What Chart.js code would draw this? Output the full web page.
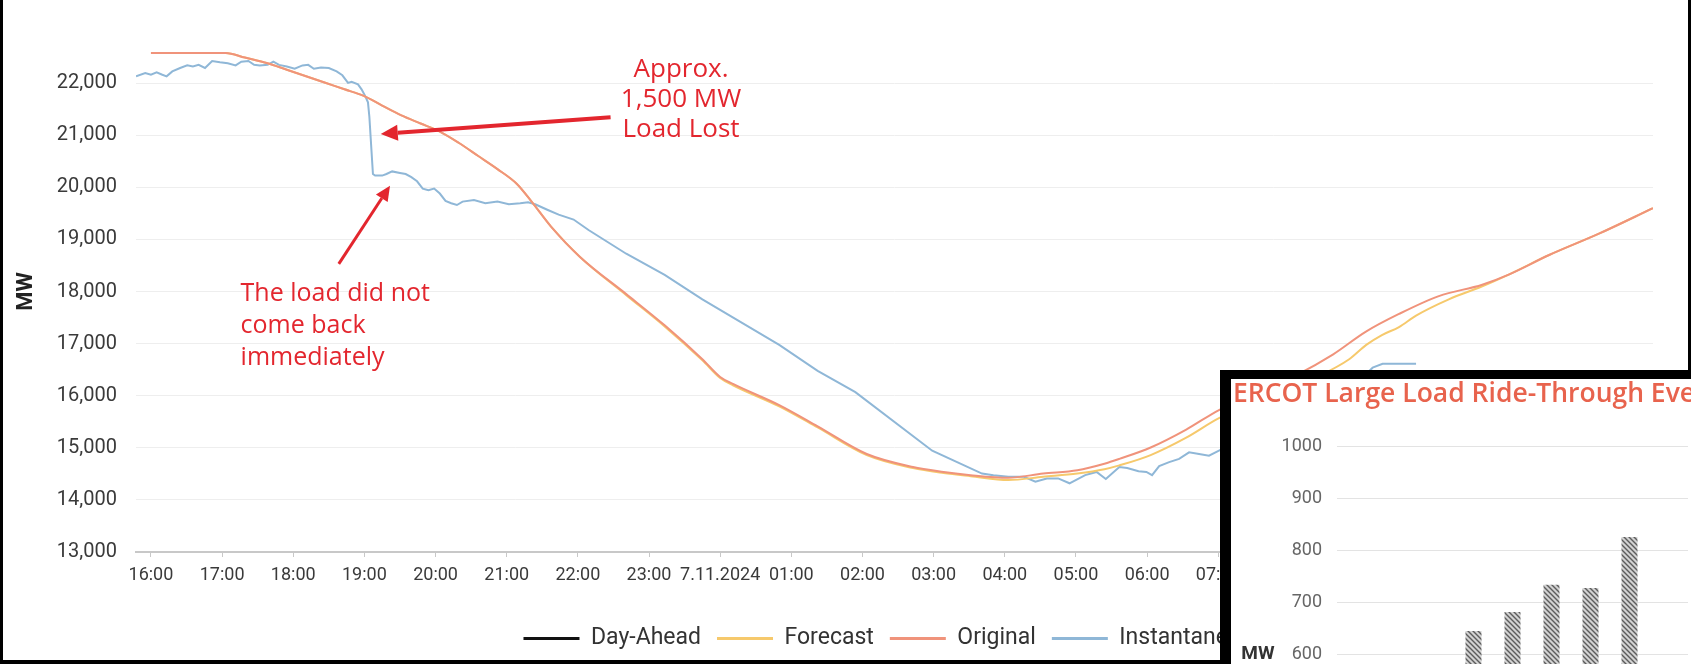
<!DOCTYPE html>
<html lang="en">
<head>
  <meta charset="UTF-8">
  <title>Load lost 6.11.2024</title>
  <script src="https://cdn.jsdelivr.net/npm/chart.js"></script>
  <style>
    html, body { margin: 0; padding: 0; background: #000; }
    body { width: 1691px; height: 664px; position: relative; overflow: hidden; }
    #main { position: absolute; left: 3px; top: 0; width: 1685px; height: 660px; background: #fff; overflow: hidden; }
    #inset { position: absolute; left: 1220px; top: 370px; width: 471px; height: 294px; background: #000; }
    #insetInner { position: absolute; left: 11px; top: 9px; width: 460px; height: 285px; background: #fff; overflow: hidden; }
    #insetInner canvas { position: absolute; left: 0; top: 0; }
  </style>
</head>
<body>
  <div id="main"><canvas id="loadChart" width="1685" height="660"></canvas></div>
  <div id="inset">
    <div id="insetInner"><canvas id="rideChart" width="640" height="523"></canvas></div>
  </div>

  <script>
    // x = hours after 16:00 on 6.11.2024
    const timeLabels = ['16:00','17:00','18:00','19:00','20:00','21:00','22:00','23:00','7.11.2024',
      '01:00','02:00','03:00','04:00','05:00','06:00','07:00','08:00','09:00','10:00','11:00','12:00','13:00'];

    const instT = [-0.21,-0.08,0.0,0.08,0.16,0.22,0.30,0.41,0.51,0.59,0.67,0.76,0.86,0.97,1.08,1.19,1.27,1.37,1.45,1.53,
      1.64,1.72,1.80,1.91,2.02,2.13,2.21,2.29,2.39,2.50,2.61,2.69,2.77,2.82,2.91,2.96,3.01,3.05,3.07,3.12,
      3.15,3.25,3.31,3.39,3.50,3.58,3.66,3.74,3.82,3.90,3.98,4.06,4.14,4.22,4.30,4.38,4.54,4.70,4.87,5.03,
      5.19,5.30,5.40,5.57,5.73,5.94,6.15,6.68,7.22,7.75,8.29,8.83,9.37,9.90,10.98,11.68,11.84,12.05,12.27,12.43,
      12.59,12.75,12.91,13.13,13.29,13.42,13.61,13.72,13.88,13.99,14.07,14.17,14.31,14.45,14.59,14.73,14.87,15.01,
      17.05,17.17,17.31,17.78];
    const instMW = [22130,22195,22160,22205,22160,22130,22225,22290,22340,22320,22350,22290,22425,22400,22380,22340,22410,22425,22350,22340,
      22350,22410,22350,22320,22275,22340,22350,22275,22300,22290,22225,22150,22005,22025,21975,21880,21755,21630,21350,20255,
      20225,20225,20255,20305,20275,20255,20195,20115,19975,19945,19975,19880,19740,19695,19660,19725,19756,19694,19725,19675,
      19694,19712,19675,19569,19475,19381,19180,18725,18319,17850,17412,16975,16475,16069,14944,14506,14475,14444,14444,14350,
      14412,14412,14319,14475,14537,14400,14631,14612,14550,14537,14475,14650,14725,14787,14912,14881,14850,14944,
      16381,16538,16612,16612];

    const origT = [0.0,1.05,1.32,1.64,1.91,2.18,2.45,2.72,2.99,3.25,3.52,3.79,4.06,4.33,4.60,4.87,5.14,5.35,5.62,6.03,
      6.68,7.22,7.75,8.00,8.18,8.83,9.37,10.06,10.71,11.14,11.52,12.05,12.54,13.02,13.40,13.61,14.05,14.55,15.01,
      16.08,16.61,17.07,17.54,18.10,18.71,19.09,19.65,20.35,21.11];
    const origMW = [22580,22580,22490,22381,22256,22131,22006,21881,21756,21569,21381,21225,21069,20850,20600,20350,20069,19725,19250,18663,
      17950,17350,16700,16360,16225,15819,15412,14881,14631,14537,14475,14425,14506,14569,14694,14787,15006,15350,15725,
      16381,16788,17225,17569,17912,18131,18330,18700,19110,19600];

    const fcstT = [0.0,1.05,1.32,1.64,1.91,2.18,2.45,2.72,2.99,3.25,3.52,3.79,4.06,4.33,4.60,4.87,5.14,5.35,5.62,6.03,
      6.68,7.22,7.75,8.00,8.18,8.83,9.37,10.06,10.71,11.14,11.52,12.05,12.54,13.02,13.40,13.61,14.05,14.55,15.01,
      16.42,16.84,17.08,17.30,17.54,17.78,18.24,18.71,19.09,19.65,20.35,21.11];
    const fcstMW = [22580,22580,22490,22381,22256,22131,22006,21881,21756,21569,21381,21225,21069,20850,20600,20350,20069,19725,19250,18663,
      17930,17330,16680,16340,16200,15795,15390,14860,14610,14515,14455,14380,14444,14506,14588,14662,14860,15194,15569,
      16381,16700,16975,17163,17318,17538,17850,18100,18330,18700,19110,19600];

    // inset: ERCOT large load ride-through events
    const eventLabels = ['', '', '', '', '', '', '', '', ''];
    const eventMW = [null, null, null, 644, 681, 733, 727, 825, null];

    Chart.defaults.font.family = 'Roboto';

    function pts(t, v) { return t.map((h, i) => ({ x: h, y: v[i] })); }

    function arrow(ctx, x1, y1, x2, y2, w, len, half, color) {
      const a = Math.atan2(y2 - y1, x2 - x1);
      const bx = x2 - len * Math.cos(a), by = y2 - len * Math.sin(a);
      ctx.strokeStyle = color; ctx.lineWidth = w;
      ctx.beginPath(); ctx.moveTo(x1, y1); ctx.lineTo(bx, by); ctx.stroke();
      ctx.fillStyle = color;
      ctx.beginPath(); ctx.moveTo(x2, y2);
      ctx.lineTo(bx + half * Math.sin(a), by - half * Math.cos(a));
      ctx.lineTo(bx - half * Math.sin(a), by + half * Math.cos(a));
      ctx.closePath(); ctx.fill();
    }

    // red call-outs, placed in data coordinates
    const notes = {
      id: 'notes',
      afterDatasetsDraw(chart) {
        const { ctx, scales: { x, y } } = chart;
        const red = '#e3262e';
        ctx.save();
        arrow(ctx, x.getPixelForValue(6.46), y.getPixelForValue(21344), x.getPixelForValue(3.23), y.getPixelForValue(21025), 4, 17, 8, red);
        arrow(ctx, x.getPixelForValue(2.64), y.getPixelForValue(18530), x.getPixelForValue(3.36), y.getPixelForValue(20030), 3, 15, 7, red);
        ctx.fillStyle = red;
        ctx.textBaseline = 'middle';
        ctx.font = '26px "Open Sans"';
        ctx.textAlign = 'center';
        ['Approx.', '1,500 MW', 'Load Lost'].forEach((t, i) =>
          ctx.fillText(t, x.getPixelForValue(7.45), y.getPixelForValue(22250) + i * 30));
        ctx.font = '25px "Open Sans"';
        ctx.textAlign = 'left';
        ['The load did not', 'come back', 'immediately'].forEach((t, i) =>
          ctx.fillText(t, x.getPixelForValue(1.26), y.getPixelForValue(17950) + i * 32));
        ctx.restore();
      }
    };

    new Chart(document.getElementById('loadChart'), {
      type: 'line',
      data: {
        datasets: [
          { label: 'Day-Ahead', data: [], borderColor: '#111', backgroundColor: '#111', borderWidth: 3, order: 0 },
          { label: 'Forecast', data: pts(fcstT, fcstMW), borderColor: '#f6c96c', borderWidth: 2, order: 2, cubicInterpolationMode: 'monotone' },
          { label: 'Original', data: pts(origT, origMW), borderColor: '#f0937b', borderWidth: 2, order: 1, cubicInterpolationMode: 'monotone' },
          { label: 'Instantaneous', data: pts(instT, instMW), borderColor: '#8fb7d7', borderWidth: 2, order: 3 }
        ]
      },
      options: {
        responsive: false,
        animation: false,
        elements: { point: { radius: 0 } },
        layout: { padding: { top: 19, right: 35, left: 0, bottom: 0 } },
        plugins: {
          tooltip: { enabled: false },
          legend: {
            position: 'bottom',
            fullSize: false,
            labels: {
              usePointStyle: true,
              pointStyle: 'line',
              pointStyleWidth: 56,
              padding: 16,
              color: '#333',
              font: { size: 23 },
              sort: (a, b) => a.datasetIndex - b.datasetIndex,
              generateLabels: chart => Chart.defaults.plugins.legend.labels.generateLabels(chart)
                .map(l => Object.assign(l, { lineWidth: 3 }))
            }
          }
        },
        scales: {
          x: {
            type: 'linear',
            min: -0.21,
            max: 21.11,
            afterBuildTicks: s => { s.ticks = timeLabels.map((_, i) => ({ value: i })); },
            afterFit: s => { s.height = 59; },
            border: { color: '#c8c8c8', width: 2 },
            grid: { drawOnChartArea: false, tickLength: 5, tickColor: '#c8c8c8' },
            ticks: { autoSkip: false, maxRotation: 0, padding: 8, color: '#3a3a3a', font: { size: 18 },
              callback: v => timeLabels[v] }
          },
          y: {
            min: 13000,
            max: 23000,
            afterFit: s => { s.width = 133; },
            border: { display: false },
            grid: { drawTicks: false, color: c => c.tick.value === 23000 ? 'rgba(0,0,0,0)' : '#eeeeee' },
            ticks: { stepSize: 1000, padding: 19, color: '#3a3a3a', font: { size: 20 },
              callback: v => v === 23000 ? '' : v.toLocaleString('en-US') },
            title: { display: true, text: 'MW', color: '#222', font: { size: 22, weight: 'bold' }, padding: { top: 10, bottom: 0 } }
          }
        }
      },
      plugins: [notes]
    });

    // hatched fill for the inset bars
    function hatch() {
      const c = document.createElement('canvas');
      c.width = 5; c.height = 5;
      const g = c.getContext('2d');
      g.fillStyle = '#d2d2d2'; g.fillRect(0, 0, 5, 5);
      g.strokeStyle = '#5c5c5c'; g.lineWidth = 1.4;
      g.beginPath();
      g.moveTo(0, 0); g.lineTo(5, 5);
      g.moveTo(-1, 4); g.lineTo(1, 6);
      g.moveTo(4, -1); g.lineTo(6, 1);
      g.stroke();
      return g.createPattern(c, 'repeat');
    }

    // inset title, cut by the picture edge right after "Eve"
    const insetTitle = 'ERCOT Large Load Ride-Through Events';
    const insetHead = {
      id: 'insetHead',
      afterDraw(chart) {
        const ctx = chart.ctx;
        ctx.save();
        ctx.font = '600 100px "Open Sans"';
        const w = ctx.measureText('ERCOT Large Load Ride-Through Eve').width;
        const size = 100 * 462 / w;
        ctx.font = `600 ${size.toFixed(1)}px "Open Sans"`;
        ctx.fillStyle = '#e8634d';
        ctx.textAlign = 'left';
        ctx.textBaseline = 'middle';
        ctx.fillText(insetTitle, 2, 15);
        // "MW" sits at the middle of the value axis
        const y = chart.scales.y;
        ctx.font = 'bold 19px Roboto';
        ctx.fillStyle = '#333';
        ctx.textAlign = 'center';
        ctx.fillText('MW', 27, (y.top + y.bottom) / 2);
        ctx.restore();
      }
    };

    new Chart(document.getElementById('rideChart'), {
      type: 'bar',
      data: {
        labels: eventLabels,
        datasets: [{ data: eventMW, backgroundColor: hatch(), categoryPercentage: 1, barPercentage: 0.41 }]
      },
      options: {
        responsive: false,
        animation: false,
        layout: { padding: { top: 67, right: 183, left: 0, bottom: 0 } },
        plugins: {
          legend: { display: false },
          tooltip: { enabled: false }
        },
        scales: {
          x: { afterFit: s => { s.height = 40; }, grid: { display: false }, ticks: { display: false } },
          y: {
            min: 200,
            max: 1000,
            afterFit: s => { s.width = 106; },
            border: { display: false },
            grid: { drawTicks: false, color: '#e3e3e3' },
            ticks: { stepSize: 100, padding: 15, color: '#666', font: { size: 18 }, callback: v => String(v) }
          }
        }
      },
      plugins: [insetHead]
    });
  </script>
</body>
</html>
